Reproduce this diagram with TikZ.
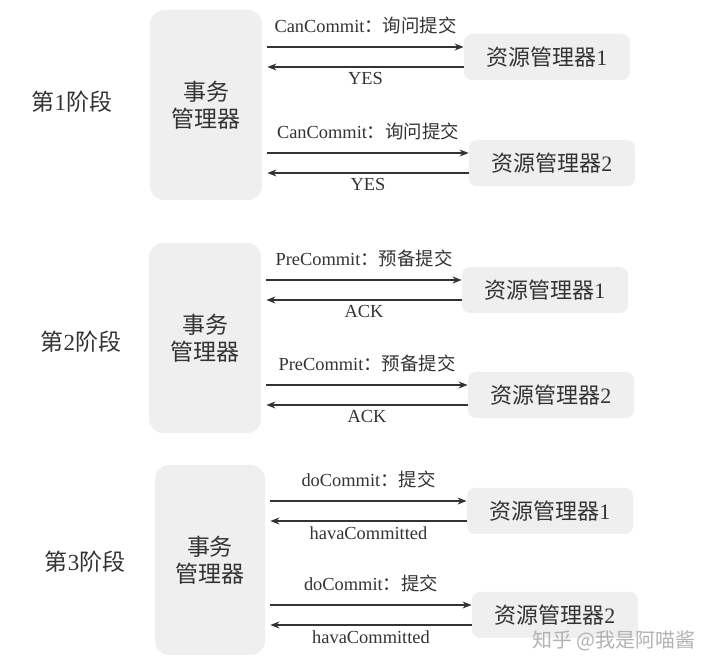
\documentclass[tikz,border=0pt]{standalone}
\usepackage{fontspec}
\setmainfont{Liberation Serif}
\newfontfamily\cjk{Noto Sans CJK SC}
\usetikzlibrary{arrows.meta,calc}
\definecolor{boxgray}{HTML}{EFEFEF}
\definecolor{inkgray}{HTML}{333333}
\tikzset{
  tmbox/.style={fill=boxgray, rounded corners=7pt, minimum height=95pt,
    align=center, text=inkgray, font=\fontsize{11.5}{13.5}\selectfont\cjk},
  rmbox/.style={fill=boxgray, rounded corners=4pt, minimum width=83pt,
    minimum height=23pt, text=inkgray, font=\fontsize{11}{13}\selectfont},
  phase/.style={text=inkgray, font=\fontsize{11.5}{13}\selectfont},
  msg/.style={draw=inkgray, line width=0.6pt, -{Stealth[length=4.5pt,width=3.5pt]}},
  msgtext/.style={text=inkgray, font=\fontsize{9.2}{11}\selectfont},
}
\begin{document}
\begin{tikzpicture}[x=0.5pt, y=-0.5pt]
  \useasboundingbox (0,0) rectangle (720,668);
  % Stage 1
  \node[phase] (p1) at (72,102) {{\cjk 第}1{\cjk 阶段}};
  \node[tmbox, minimum width=56pt] (tm1) at (206,105) {事务\\管理器};
  \node[rmbox] (r11) at (547,57) {{\cjk 资源管理器}1};
  \node[rmbox] (r12) at (552,163) {{\cjk 资源管理器}2};
  % Stage 2
  \node[phase] (p2) at (81,342) {{\cjk 第}2{\cjk 阶段}};
  \node[tmbox, minimum width=56pt] (tm2) at (205,338) {事务\\管理器};
  \node[rmbox] (r21) at (545,290) {{\cjk 资源管理器}1};
  \node[rmbox] (r22) at (551,395) {{\cjk 资源管理器}2};
  % Stage 3
  \node[phase] (p3) at (85,562) {{\cjk 第}3{\cjk 阶段}};
  \node[tmbox, minimum width=55pt] (tm3) at (210,560) {事务\\管理器};
  \node[rmbox] (r31) at (550,511) {{\cjk 资源管理器}1};
  \node[rmbox] (r32) at (555,615) {{\cjk 资源管理器}2};
  % Messages
  \foreach \s/\req/\ack in {1/{CanCommit{\cjk ：询问提交}}/YES,
      2/{PreCommit{\cjk ：预备提交}}/ACK,
      3/{doCommit{\cjk ：提交}}/havaCommitted}
    \foreach \r in {1,2} {
      \draw[msg] ($(tm\s.east|-r\s\r.west)+(5,-10)$) -- ($(r\s\r.west)+(0,-10)$)
        node[midway, above=3pt, msgtext] {\req};
      \draw[msg] ($(r\s\r.west)+(0,10)$) -- ($(tm\s.east|-r\s\r.west)+(5,10)$)
        node[midway, below=-1pt, msgtext] {\ack};
    }
  % Watermark
  \node[text=black!30, font=\fontsize{10}{12}\selectfont\cjk] (wm) at (614,641)
    {知乎\ @我是阿喵酱};
\end{tikzpicture}
\end{document}
